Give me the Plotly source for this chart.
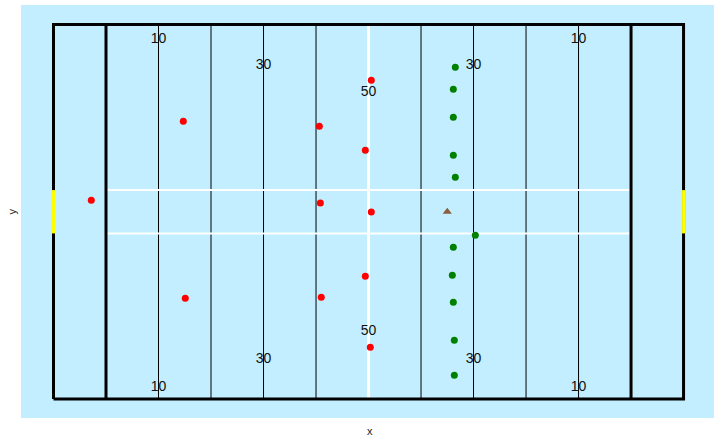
import plotly.graph_objects as go

# ---- data ----
yard_lines = [20, 30, 40, 50, 70, 80, 90, 100]
midfield = 60
goal_lines = [10, 110]
field_length = 120
field_width = 53.33
hash_y = [23.58, 29.75]
post_y = [23.58, 29.75]

label_x = [20, 40, 60, 80, 100]
label_text = ["10", "30", "50", "30", "10"]
label_y_top = [51.15, 47.55, 43.6, 47.55, 51.15]
label_y_bottom = [1.6, 5.65, 9.55, 5.65, 1.6]

red_x = [7.2, 24.72, 25.1, 50.63, 59.39, 60.53, 50.82, 60.53, 59.39, 51.0, 60.34]
red_y = [28.3, 39.55, 14.34, 38.84, 35.42, 45.39, 27.91, 26.63, 17.47, 14.48, 7.36]

green_x = [76.53, 76.15, 76.15, 76.15, 76.53, 80.34, 76.15, 75.96, 76.15, 76.34, 76.34]
green_y = [47.24, 44.10, 40.12, 34.71, 31.57, 23.31, 21.60, 17.62, 13.77, 8.36, 3.38]

ball_x = [75.0]
ball_y = [26.67]

x_range = [-6.19, 125.8]
y_range = [-2.71, 56.11]

fig = go.Figure()

def seg(x0, y0, x1, y1, color, width):
    fig.add_trace(go.Scatter(x=[x0, x1], y=[y0, y1], mode="lines",
                             line=dict(color=color, width=width),
                             hoverinfo="skip", showlegend=False))

for xl in yard_lines:
    seg(xl, 0, xl, field_width, "black", 1)
for hy in hash_y:
    seg(goal_lines[0], hy, goal_lines[1], hy, "white", 2)
seg(midfield, 0, midfield, field_width, "white", 3)
for gl in goal_lines:
    seg(gl, 0, gl, field_width, "black", 3)
# boundary
fig.add_trace(go.Scatter(x=[0, field_length, field_length, 0, 0],
                         y=[0, 0, field_width, field_width, 0], mode="lines",
                         line=dict(color="black", width=3),
                         hoverinfo="skip", showlegend=False))
for px in [0, field_length]:
    seg(px, post_y[0], px, post_y[1], "#FFFF00", 3)

txtfont = dict(family="Liberation Sans, Arial, sans-serif", size=14, color="#111111")
fig.add_trace(go.Scatter(x=label_x, y=label_y_top, mode="text", text=label_text,
                         textfont=txtfont, textposition="middle center",
                         hoverinfo="skip", showlegend=False))
fig.add_trace(go.Scatter(x=label_x, y=label_y_bottom, mode="text", text=label_text,
                         textfont=txtfont, textposition="middle center",
                         hoverinfo="skip", showlegend=False))

fig.add_trace(go.Scatter(x=red_x, y=red_y, mode="markers",
                         marker=dict(color="#FF0000", size=7, line=dict(width=0)),
                         showlegend=False))
fig.add_trace(go.Scatter(x=green_x, y=green_y, mode="markers",
                         marker=dict(color="#008000", size=7, line=dict(width=0)),
                         showlegend=False))
fig.add_trace(go.Scatter(x=ball_x, y=ball_y, mode="markers",
                         marker=dict(color="#8B5E3C", size=8, symbol="triangle-up",
                                     line=dict(width=0)),
                         showlegend=False))

fig.update_layout(
    width=720, height=440,
    margin=dict(l=21, r=6, t=5, b=22),
    plot_bgcolor="#C2EEFF",
    paper_bgcolor="white",
    showlegend=False,
    xaxis=dict(range=x_range, showgrid=False, zeroline=False, showticklabels=False,
               ticks="", showline=False),
    yaxis=dict(range=y_range, showgrid=False, zeroline=False, showticklabels=False,
               ticks="", showline=False),
    annotations=[
        dict(text="x", xref="paper", yref="paper", x=0.503, y=-0.013, yanchor="top",
             showarrow=False, font=dict(family="Liberation Sans, Arial, sans-serif", size=11, color="#222")),
        dict(text="y", xref="paper", yref="paper", x=-0.013, y=0.5, xanchor="center",
             textangle=-90, showarrow=False,
             font=dict(family="Liberation Sans, Arial, sans-serif", size=11, color="#222")),
    ],
)

fig.write_html("out.html", config={"displayModeBar": False},
               post_script="document.body.style.margin='0';document.body.style.padding='0';")
